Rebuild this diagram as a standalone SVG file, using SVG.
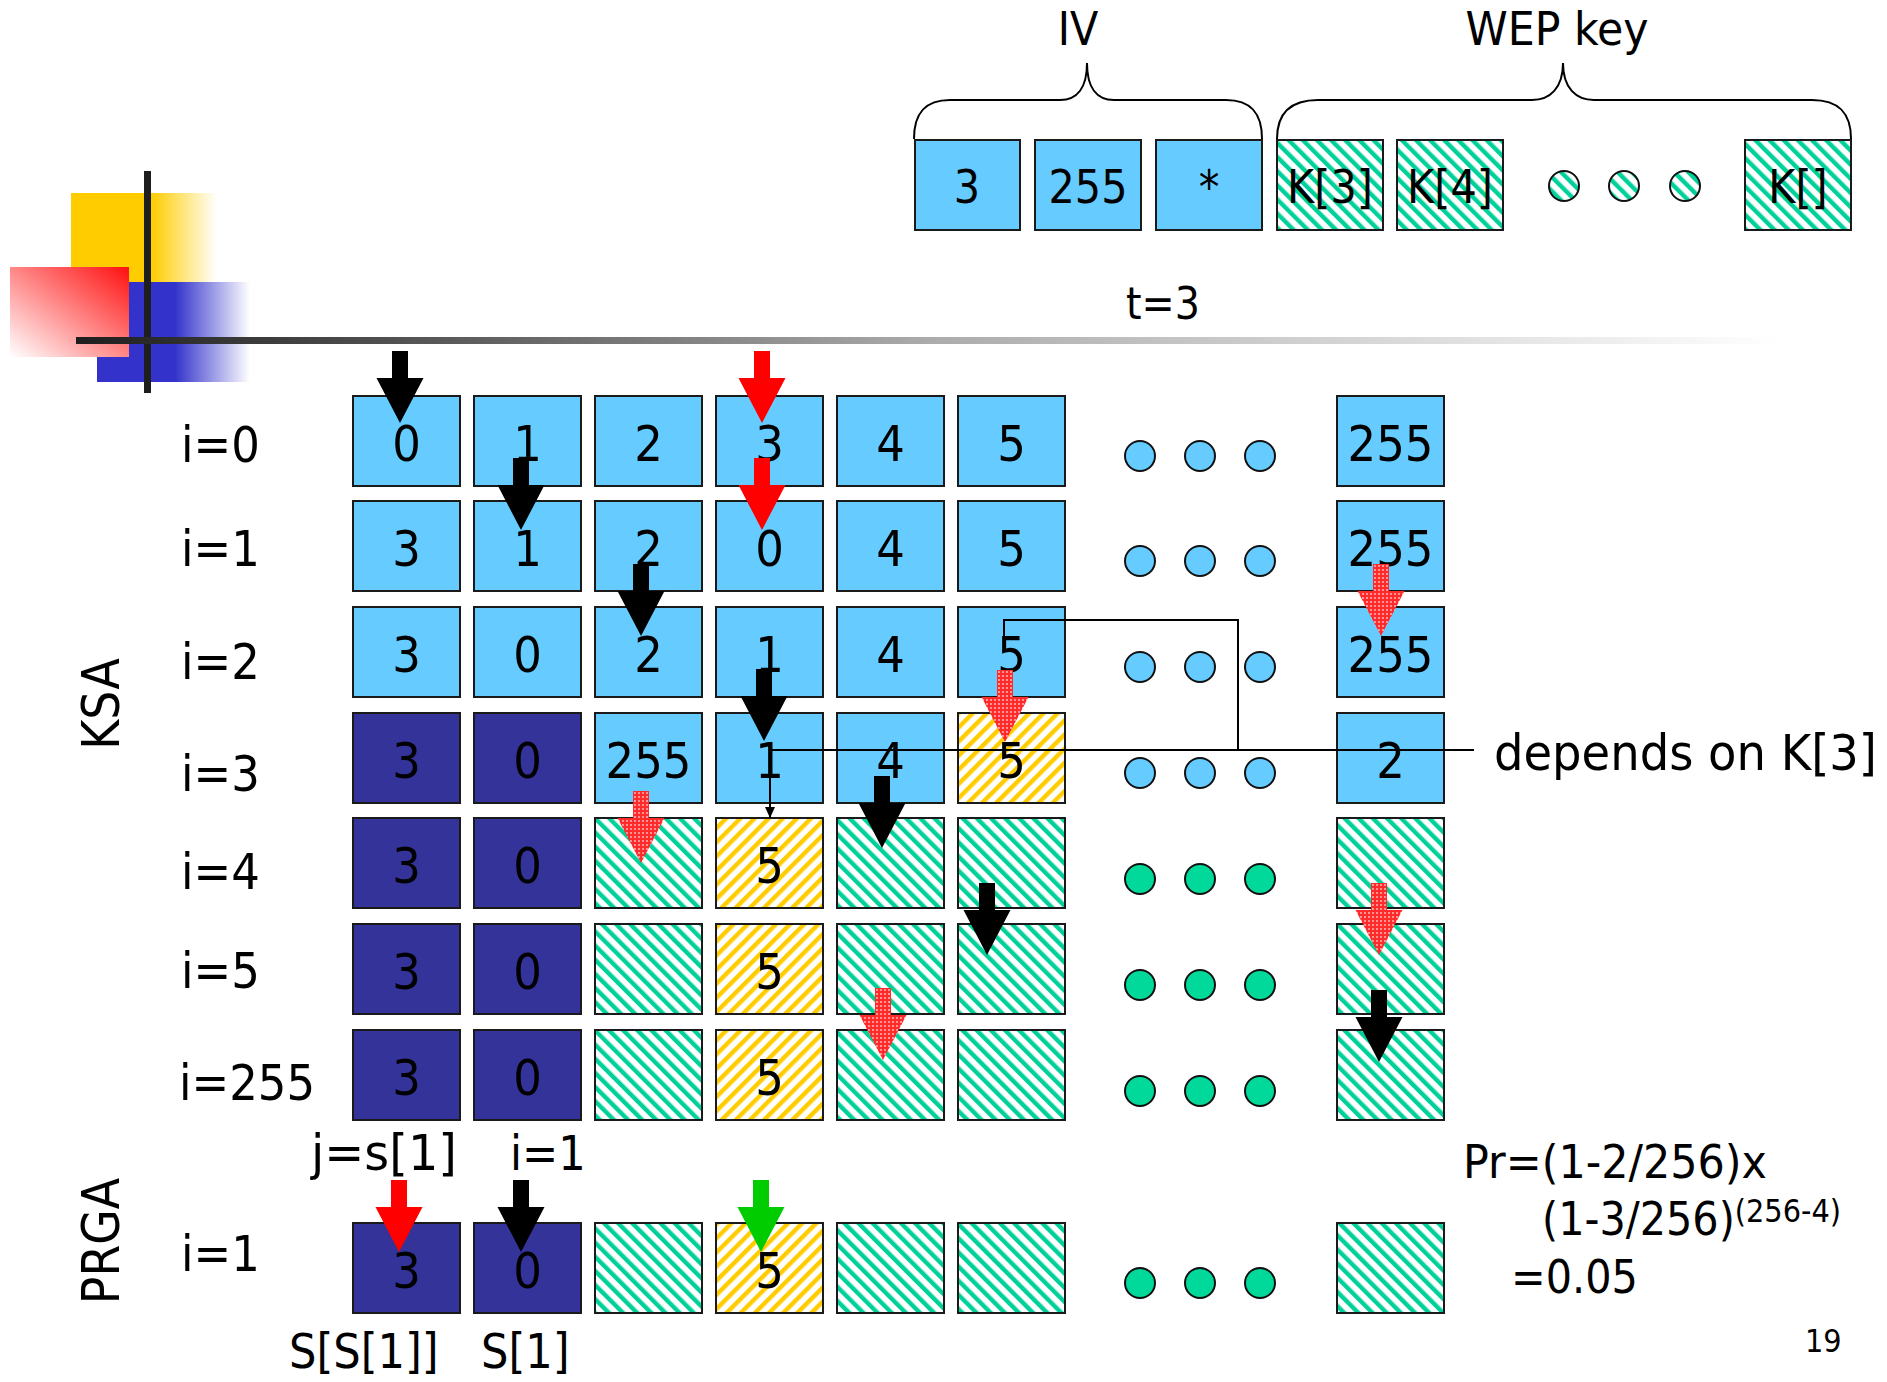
<svg xmlns="http://www.w3.org/2000/svg" xmlns:xlink="http://www.w3.org/1999/xlink" width="1887" height="1382" viewBox="0 0 1887 1382">
<style>
text{font-family:"DejaVu Sans Condensed","DejaVu Sans",sans-serif;font-stretch:condensed;fill:#000}
.c rect{stroke:#1a1a1a;stroke-width:2}
.c text{font-size:50px;text-anchor:middle}
.lb{fill:#66ccff}
.nv{fill:#333399}
.gh{fill:url(#hg)}
.yh{fill:url(#hy)}
.dotb{fill:#66ccff;stroke:#111;stroke-width:2}
.dotg{fill:#00d99a;stroke:#111;stroke-width:2}
.doth{fill:url(#hg);stroke:#111;stroke-width:2}
.lab{font-size:50px}
.top rect{stroke:#1a1a1a;stroke-width:2}
.top text{font-size:46px;text-anchor:middle}
.ln{fill:none;stroke:#000;stroke-width:2}
</style>
<defs>
<pattern id="hg" patternUnits="userSpaceOnUse" width="10" height="10" patternTransform="rotate(-45)"><rect width="10" height="10" fill="#fff"/><rect width="4.4" height="10" fill="#00d19a"/></pattern>
<pattern id="hy" patternUnits="userSpaceOnUse" width="10" height="10" patternTransform="rotate(45)"><rect width="10" height="10" fill="#fff"/><rect width="4.4" height="10" fill="#ffcc00"/></pattern>
<pattern id="rp" patternUnits="userSpaceOnUse" width="4" height="4"><rect width="4" height="4" fill="#ff2a2a"/><circle cx="2" cy="2" r="0.9" fill="#ffc8c8"/></pattern>
<linearGradient id="bar" gradientUnits="userSpaceOnUse" x1="76" y1="0" x2="1780" y2="0"><stop offset="0" stop-color="#1e1e1e"/><stop offset="0.2" stop-color="#555"/><stop offset="0.5" stop-color="#ababab"/><stop offset="1" stop-color="#fff"/></linearGradient>
<linearGradient id="gy" gradientUnits="userSpaceOnUse" x1="71" y1="0" x2="217" y2="0"><stop offset="0" stop-color="#ffcc00"/><stop offset="0.55" stop-color="#ffcc00"/><stop offset="1" stop-color="#ffcc00" stop-opacity="0"/></linearGradient>
<linearGradient id="gb" gradientUnits="userSpaceOnUse" x1="97" y1="0" x2="250" y2="0"><stop offset="0" stop-color="#3333cc"/><stop offset="0.51" stop-color="#3333cc"/><stop offset="1" stop-color="#3333cc" stop-opacity="0"/></linearGradient>
<linearGradient id="gr" x1="1" y1="0" x2="0" y2="1"><stop offset="0" stop-color="#ff1010"/><stop offset="1" stop-color="#ffffff"/></linearGradient>
<path id="arr" d="M-8,-72 H8 V-45 H23.5 L0,0 L-23.5,-45 H-8 Z"/>
<marker id="ah" markerUnits="userSpaceOnUse" markerWidth="12" markerHeight="10" refX="11" refY="5" orient="auto"><path d="M0,0 L11,5 L0,10 Z" fill="#000"/></marker>
</defs>

<g id="decor">
<rect x="71" y="193" width="146" height="89" fill="url(#gy)"/>
<rect x="97" y="282" width="153" height="100" fill="url(#gb)"/>
<rect x="10" y="267" width="119" height="90" fill="url(#gr)"/>
<rect x="144" y="171" width="7" height="222" fill="#1e1e1e"/>
<rect x="76" y="337" width="1704" height="7" fill="url(#bar)"/>
</g>

<g id="header">
<text x="1078" y="45" font-size="46" text-anchor="middle">IV</text>
<text x="1557" y="45" font-size="47" text-anchor="middle" textLength="183" lengthAdjust="spacingAndGlyphs">WEP key</text>
<path class="ln" d="M914,139 C914,112 926,100 950,100 H1060 C1077,100 1087,88 1087,63 C1087,88 1097,100 1114,100 H1226 C1250,100 1262,112 1262,139"/>
<path class="ln" d="M1277,139 C1277,112 1292,100 1318,100 H1532 C1550,100 1563,88 1563,63 C1563,88 1576,100 1594,100 H1812 C1838,100 1851,112 1851,139"/>
<text x="1163" y="319" font-size="44" text-anchor="middle">t=3</text>
</g>

<g id="iv-0" class="top"><rect class="lb" x="915" y="140" width="105" height="90"/><text x="967" y="203">3</text></g>
<g id="iv-1" class="top"><rect class="lb" x="1035" y="140" width="106" height="90"/><text x="1088" y="203">255</text></g>
<g id="iv-2" class="top"><rect class="lb" x="1156" y="140" width="106" height="90"/><text x="1209" y="203">*</text></g>
<g id="key-3" class="top"><rect class="gh" x="1277" y="140" width="106" height="90"/><text x="1330" y="203">K[3]</text></g>
<g id="key-4" class="top"><rect class="gh" x="1397" y="140" width="106" height="90"/><text x="1450" y="203">K[4]</text></g>
<g id="key-dots"><circle class="doth" cx="1564" cy="186" r="15"/><circle class="doth" cx="1624" cy="186" r="15"/><circle class="doth" cx="1685" cy="186" r="15"/></g>
<g id="key-n" class="top"><rect class="gh" x="1745" y="140" width="106" height="90"/><text x="1798" y="203">K[]</text></g>

<g id="labels">
<text class="lab" x="181" y="462">i=0</text>
<text class="lab" x="181" y="566">i=1</text>
<text class="lab" x="181" y="679">i=2</text>
<text class="lab" x="181" y="791">i=3</text>
<text class="lab" x="181" y="889">i=4</text>
<text class="lab" x="181" y="988">i=5</text>
<text class="lab" x="179" y="1100">i=255</text>
<text class="lab" x="181" y="1271">i=1</text>
<text font-size="51" text-anchor="middle" transform="translate(119,704) rotate(-90)">KSA</text>
<text font-size="51" text-anchor="middle" transform="translate(119,1241) rotate(-90)">PRGA</text>
<text font-size="50" x="311" y="1170" textLength="146" lengthAdjust="spacingAndGlyphs">j=s[1]</text>
<text font-size="48" x="510" y="1170">i=1</text>
<text font-size="48" x="289" y="1368">S[S[1]]</text>
<text font-size="48" x="481" y="1368">S[1]</text>
<text font-size="47" x="1463" y="1178" textLength="304" lengthAdjust="spacingAndGlyphs">Pr=(1-2/256)x</text>
<text font-size="46" x="1542" y="1235">(1-3/256)<tspan font-size="32" dy="-13">(256-4)</tspan></text>
<text font-size="46" x="1511" y="1293">=0.05</text>
<text font-size="32" x="1805" y="1352">19</text>
<text font-size="49" x="1494" y="770" textLength="383" lengthAdjust="spacingAndGlyphs">depends on K[3]</text>
</g>

<!-- row 0 -->
<g id="r0c0" class="c"><rect class="lb" x="353" y="396" width="107" height="90"/><text x="406.5" y="461">0</text></g>
<g id="r0c1" class="c"><rect class="lb" x="474" y="396" width="107" height="90"/><text x="527.5" y="461">1</text></g>
<g id="r0c2" class="c"><rect class="lb" x="595" y="396" width="107" height="90"/><text x="648.5" y="461">2</text></g>
<g id="r0c3" class="c"><rect class="lb" x="716" y="396" width="107" height="90"/><text x="769.5" y="461">3</text></g>
<g id="r0c4" class="c"><rect class="lb" x="837" y="396" width="107" height="90"/><text x="890.5" y="461">4</text></g>
<g id="r0c5" class="c"><rect class="lb" x="958" y="396" width="107" height="90"/><text x="1011.5" y="461">5</text></g>
<g id="r0dots"><circle class="dotb" cx="1140" cy="456" r="15"/><circle class="dotb" cx="1200" cy="456" r="15"/><circle class="dotb" cx="1260" cy="456" r="15"/></g>
<g id="r0cL" class="c"><rect class="lb" x="1337" y="396" width="107" height="90"/><text x="1390.5" y="461">255</text></g>
<!-- row 1 -->
<g id="r1c0" class="c"><rect class="lb" x="353" y="501" width="107" height="90"/><text x="406.5" y="566">3</text></g>
<g id="r1c1" class="c"><rect class="lb" x="474" y="501" width="107" height="90"/><text x="527.5" y="566">1</text></g>
<g id="r1c2" class="c"><rect class="lb" x="595" y="501" width="107" height="90"/><text x="648.5" y="566">2</text></g>
<g id="r1c3" class="c"><rect class="lb" x="716" y="501" width="107" height="90"/><text x="769.5" y="566">0</text></g>
<g id="r1c4" class="c"><rect class="lb" x="837" y="501" width="107" height="90"/><text x="890.5" y="566">4</text></g>
<g id="r1c5" class="c"><rect class="lb" x="958" y="501" width="107" height="90"/><text x="1011.5" y="566">5</text></g>
<g id="r1dots"><circle class="dotb" cx="1140" cy="561" r="15"/><circle class="dotb" cx="1200" cy="561" r="15"/><circle class="dotb" cx="1260" cy="561" r="15"/></g>
<g id="r1cL" class="c"><rect class="lb" x="1337" y="501" width="107" height="90"/><text x="1390.5" y="566">255</text></g>
<!-- row 2 -->
<g id="r2c0" class="c"><rect class="lb" x="353" y="607" width="107" height="90"/><text x="406.5" y="672">3</text></g>
<g id="r2c1" class="c"><rect class="lb" x="474" y="607" width="107" height="90"/><text x="527.5" y="672">0</text></g>
<g id="r2c2" class="c"><rect class="lb" x="595" y="607" width="107" height="90"/><text x="648.5" y="672">2</text></g>
<g id="r2c3" class="c"><rect class="lb" x="716" y="607" width="107" height="90"/><text x="769.5" y="672">1</text></g>
<g id="r2c4" class="c"><rect class="lb" x="837" y="607" width="107" height="90"/><text x="890.5" y="672">4</text></g>
<g id="r2c5" class="c"><rect class="lb" x="958" y="607" width="107" height="90"/><text x="1011.5" y="672">5</text></g>
<g id="r2dots"><circle class="dotb" cx="1140" cy="667" r="15"/><circle class="dotb" cx="1200" cy="667" r="15"/><circle class="dotb" cx="1260" cy="667" r="15"/></g>
<g id="r2cL" class="c"><rect class="lb" x="1337" y="607" width="107" height="90"/><text x="1390.5" y="672">255</text></g>
<!-- row 3 -->
<g id="r3c0" class="c"><rect class="nv" x="353" y="713" width="107" height="90"/><text x="406.5" y="778">3</text></g>
<g id="r3c1" class="c"><rect class="nv" x="474" y="713" width="107" height="90"/><text x="527.5" y="778">0</text></g>
<g id="r3c2" class="c"><rect class="lb" x="595" y="713" width="107" height="90"/><text x="648.5" y="778">255</text></g>
<g id="r3c3" class="c"><rect class="lb" x="716" y="713" width="107" height="90"/><text x="769.5" y="778">1</text></g>
<g id="r3c4" class="c"><rect class="lb" x="837" y="713" width="107" height="90"/><text x="890.5" y="778">4</text></g>
<g id="r3c5" class="c"><rect class="yh" x="958" y="713" width="107" height="90"/><text x="1011.5" y="778">5</text></g>
<g id="r3dots"><circle class="dotb" cx="1140" cy="773" r="15"/><circle class="dotb" cx="1200" cy="773" r="15"/><circle class="dotb" cx="1260" cy="773" r="15"/></g>
<g id="r3cL" class="c"><rect class="lb" x="1337" y="713" width="107" height="90"/><text x="1390.5" y="778">2</text></g>
<!-- row 4 -->
<g id="r4c0" class="c"><rect class="nv" x="353" y="818" width="107" height="90"/><text x="406.5" y="883">3</text></g>
<g id="r4c1" class="c"><rect class="nv" x="474" y="818" width="107" height="90"/><text x="527.5" y="883">0</text></g>
<g id="r4c2" class="c"><rect class="gh" x="595" y="818" width="107" height="90"/></g>
<g id="r4c3" class="c"><rect class="yh" x="716" y="818" width="107" height="90"/><text x="769.5" y="883">5</text></g>
<g id="r4c4" class="c"><rect class="gh" x="837" y="818" width="107" height="90"/></g>
<g id="r4c5" class="c"><rect class="gh" x="958" y="818" width="107" height="90"/></g>
<g id="r4dots"><circle class="dotg" cx="1140" cy="879" r="15"/><circle class="dotg" cx="1200" cy="879" r="15"/><circle class="dotg" cx="1260" cy="879" r="15"/></g>
<g id="r4cL" class="c"><rect class="gh" x="1337" y="818" width="107" height="90"/></g>
<!-- row 5 -->
<g id="r5c0" class="c"><rect class="nv" x="353" y="924" width="107" height="90"/><text x="406.5" y="989">3</text></g>
<g id="r5c1" class="c"><rect class="nv" x="474" y="924" width="107" height="90"/><text x="527.5" y="989">0</text></g>
<g id="r5c2" class="c"><rect class="gh" x="595" y="924" width="107" height="90"/></g>
<g id="r5c3" class="c"><rect class="yh" x="716" y="924" width="107" height="90"/><text x="769.5" y="989">5</text></g>
<g id="r5c4" class="c"><rect class="gh" x="837" y="924" width="107" height="90"/></g>
<g id="r5c5" class="c"><rect class="gh" x="958" y="924" width="107" height="90"/></g>
<g id="r5dots"><circle class="dotg" cx="1140" cy="985" r="15"/><circle class="dotg" cx="1200" cy="985" r="15"/><circle class="dotg" cx="1260" cy="985" r="15"/></g>
<g id="r5cL" class="c"><rect class="gh" x="1337" y="924" width="107" height="90"/></g>
<!-- row 6 (i=255) -->
<g id="r6c0" class="c"><rect class="nv" x="353" y="1030" width="107" height="90"/><text x="406.5" y="1095">3</text></g>
<g id="r6c1" class="c"><rect class="nv" x="474" y="1030" width="107" height="90"/><text x="527.5" y="1095">0</text></g>
<g id="r6c2" class="c"><rect class="gh" x="595" y="1030" width="107" height="90"/></g>
<g id="r6c3" class="c"><rect class="yh" x="716" y="1030" width="107" height="90"/><text x="769.5" y="1095">5</text></g>
<g id="r6c4" class="c"><rect class="gh" x="837" y="1030" width="107" height="90"/></g>
<g id="r6c5" class="c"><rect class="gh" x="958" y="1030" width="107" height="90"/></g>
<g id="r6dots"><circle class="dotg" cx="1140" cy="1091" r="15"/><circle class="dotg" cx="1200" cy="1091" r="15"/><circle class="dotg" cx="1260" cy="1091" r="15"/></g>
<g id="r6cL" class="c"><rect class="gh" x="1337" y="1030" width="107" height="90"/></g>
<!-- PRGA row -->
<g id="p0" class="c"><rect class="nv" x="353" y="1223" width="107" height="90"/><text x="406.5" y="1288">3</text></g>
<g id="p1" class="c"><rect class="nv" x="474" y="1223" width="107" height="90"/><text x="527.5" y="1288">0</text></g>
<g id="p2" class="c"><rect class="gh" x="595" y="1223" width="107" height="90"/></g>
<g id="p3" class="c"><rect class="yh" x="716" y="1223" width="107" height="90"/><text x="769.5" y="1288">5</text></g>
<g id="p4" class="c"><rect class="gh" x="837" y="1223" width="107" height="90"/></g>
<g id="p5" class="c"><rect class="gh" x="958" y="1223" width="107" height="90"/></g>
<g id="pdots"><circle class="dotg" cx="1140" cy="1283" r="15"/><circle class="dotg" cx="1200" cy="1283" r="15"/><circle class="dotg" cx="1260" cy="1283" r="15"/></g>
<g id="pL" class="c"><rect class="gh" x="1337" y="1223" width="107" height="90"/></g>

<g id="connectors">
<path class="ln" d="M1474,750 H770 V818" marker-end="url(#ah)"/>
<path class="ln" d="M1004,637 V620 H1238 V750"/>
<use href="#arr" x="400" y="423" fill="#000"/>
<use href="#arr" x="762" y="423" fill="#ff0000"/>
<use href="#arr" x="521" y="530" fill="#000"/>
<use href="#arr" x="762" y="530" fill="#ff0000"/>
<use href="#arr" x="641" y="636" fill="#000"/>
<use href="#arr" x="1381" y="636" fill="url(#rp)"/>
<use href="#arr" x="764" y="741" fill="#000"/>
<use href="#arr" x="1005" y="742" fill="url(#rp)"/>
<use href="#arr" x="882" y="848" fill="#000"/>
<use href="#arr" x="641" y="863" fill="url(#rp)"/>
<use href="#arr" x="987" y="955" fill="#000"/>
<use href="#arr" x="1379" y="955" fill="url(#rp)"/>
<use href="#arr" x="883" y="1060" fill="url(#rp)"/>
<use href="#arr" x="1379" y="1062" fill="#000"/>
<use href="#arr" x="399" y="1252" fill="#ff0000"/>
<use href="#arr" x="521" y="1252" fill="#000"/>
<use href="#arr" x="761" y="1252" fill="#00cc00"/>
</g>
</svg>
